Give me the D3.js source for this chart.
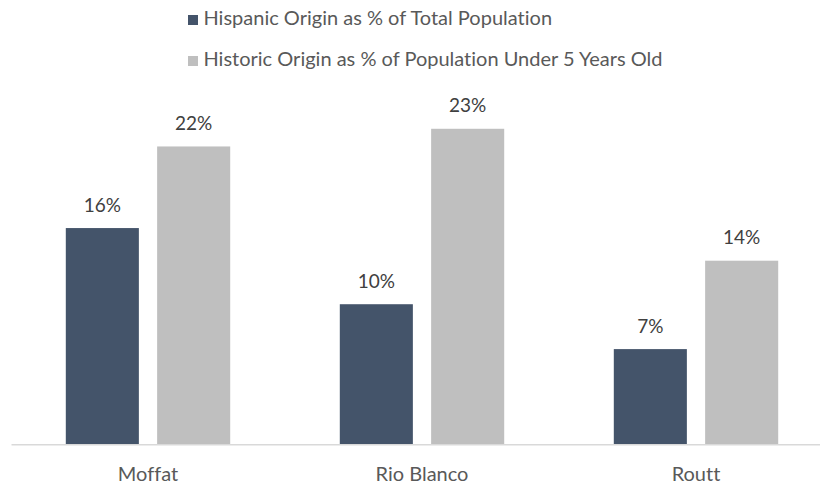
<!DOCTYPE html>
<html>
<head>
<meta charset="utf-8">
<script src="https://cdn.jsdelivr.net/npm/d3@7"></script>
<style>
  html, body { margin: 0; padding: 0; background: #fff; }
  svg { display: block; font-family: Lato, "Open Sans", sans-serif; font-variant-ligatures: none; font-feature-settings: "liga" 0, "clig" 0; }
</style>
</head>
<body>
<svg id="chart" width="820" height="486"></svg>
<script>
// ---- data ----
const categories = ["Moffat", "Rio Blanco", "Routt"];
const seriesNames = [
  "Hispanic Origin as % of Total Population",
  "Historic Origin as % of Population Under 5 Years Old"
];
const totalPopPct = [15.9, 10.3, 7.0];
const under5Pct = [21.9, 23.2, 13.5];
const seriesColors = ["#44546a", "#bfbfbf"];

const seriesValues = [totalPopPct, under5Pct];
const rows = categories.map((c, i) => ({
  cat: c,
  vals: seriesValues.map((s, j) => ({ key: seriesNames[j], idx: j, v: s[i] }))
}));

const svg = d3.select("#chart");
const W = 820, H = 486;
const baseY = 444.3;

const x0 = d3.scaleBand().domain(categories).range([11, 833]).paddingInner(0.4).paddingOuter(0.2);
const x1 = d3.scaleBand().domain(d3.range(seriesNames.length)).range([0, x0.bandwidth()]).paddingInner(0.2);
const y = d3.scaleLinear().domain([0, 25]).range([baseY, baseY - 25 * 13.6]);

// bars
const g = svg.append("g");
const groups = g.selectAll("g.grp").data(rows).join("g")
  .attr("class", "grp")
  .attr("transform", d => `translate(${x0(d.cat)},0)`);

groups.selectAll("rect").data(d => d.vals).join("rect")
  .attr("x", d => x1(d.idx))
  .attr("width", x1.bandwidth())
  .attr("y", d => y(d.v))
  .attr("height", d => y(0) - y(d.v))
  .attr("fill", d => seriesColors[d.idx]);

groups.selectAll("text.val").data(d => d.vals).join("text")
  .attr("class", "val")
  .attr("x", d => x1(d.idx) + x1.bandwidth() / 2)
  .attr("y", d => y(d.v) - 16.5)
  .attr("text-anchor", "middle")
  .attr("font-size", 19)
  .attr("fill", "#404040")
  .text(d => Math.round(d.v) + "%");

// axis
const xAxis = d3.axisBottom(x0).tickSize(0).tickPadding(0);
const ax = svg.append("g").attr("transform", `translate(0,${baseY})`).call(xAxis);
ax.select(".domain").attr("stroke", "#d9d9d9").attr("stroke-width", 1.5);
ax.selectAll(".tick text")
  .attr("dy", null)
  .attr("y", 36.7)
  .attr("font-family", "Lato, 'Open Sans', sans-serif")
  .attr("font-size", 20)
  .attr("fill", "#595959");

// legend
const legend = svg.append("g");
const legY = [25, 66];
seriesNames.forEach((name, i) => {
  legend.append("rect")
    .attr("x", 188).attr("y", legY[i] - 10)
    .attr("width", 10).attr("height", 10)
    .attr("fill", seriesColors[i]);
  legend.append("text")
    .attr("x", 203.5).attr("y", legY[i])
    .attr("font-size", 20)
    .attr("fill", "#595959")
    .text(name);
});
</script>
</body>
</html>
